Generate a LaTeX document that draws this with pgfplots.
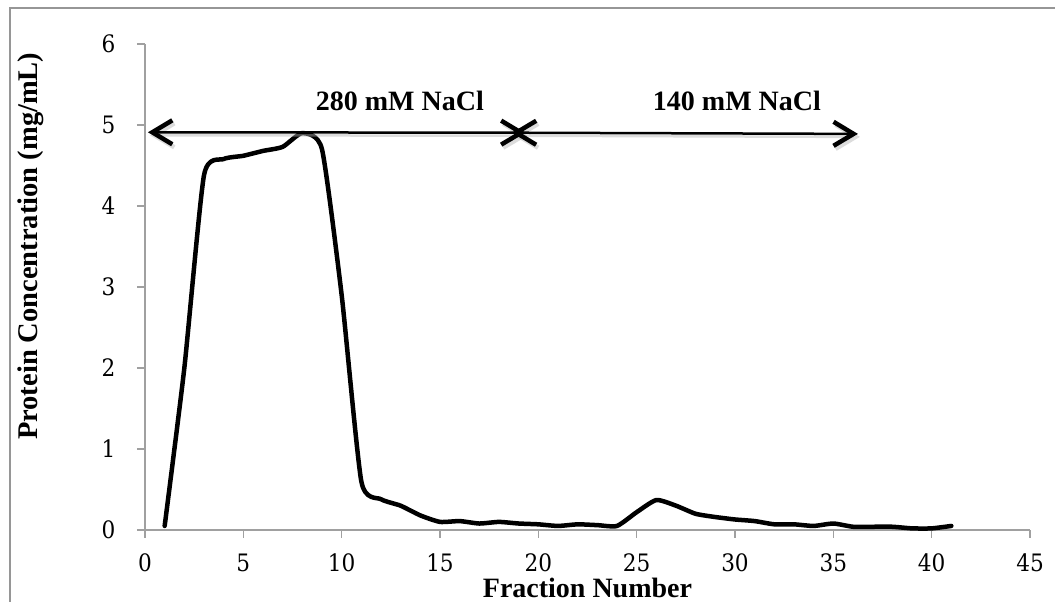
\documentclass[border=0pt]{standalone}
\usepackage{fontspec}
\setmainfont{DejaVu Serif Condensed}
\newfontfamily\labfont{Liberation Serif}
\usepackage{pgfplots}
\pgfplotsset{compat=1.18}
\usetikzlibrary{arrows.meta}
\definecolor{axisgray}{RGB}{160,160,160}
\definecolor{framegray}{RGB}{150,150,150}
\tikzset{barbarrow/.style={line width=2.5pt, >={Straight Barb[length=20pt,width=24pt,line width=4.5pt]}, <->}}
\begin{document}
\begin{tikzpicture}[x=1pt,y=1pt]
\useasboundingbox (0,0) rectangle (1055,602);
\draw[line width=1.6pt, framegray] (10,-30) rectangle (1090,594);
\begin{axis}[
  at={(145pt,72pt)}, anchor=south west,
  scale only axis, width=885pt, height=486pt,
  xmin=0, xmax=45, ymin=0, ymax=6,
  xtick={0,5,...,45}, ytick={0,1,...,6},
  axis lines*=left,
  axis line style={line width=1.5pt, color=axisgray},
  every tick/.style={line width=1.5pt, color=axisgray},
  tick align=outside, major tick length=8pt,
  /pgf/number format/assume math mode=true,
  tick label style={font=\fontsize{24}{28}\selectfont, black},
  xticklabel style={yshift=-12pt},
  yticklabel style={xshift=-18pt},
  xlabel={Fraction Number},
  ylabel={Protein Concentration (mg/mL)},
  xlabel style={font=\labfont\bfseries\fontsize{28}{32}\selectfont, inner sep=0pt, at={(axis description cs:0.5,-0.1379)}, anchor=base},
  ylabel style={font=\labfont\bfseries\fontsize{28.5}{32}\selectfont, inner sep=0pt, at={(axis description cs:-0.1288,0.584)}, anchor=center},
  clip=false,
]
\addplot[black, line width=4.5pt, smooth, tension=0.35, line join=round, line cap=round] coordinates {
(1,0.05) (2,2.0) (3,4.38) (4,4.58) (5,4.62) (6,4.68) (7,4.73) (8,4.9) (9,4.7)
(10,2.9) (11,0.6) (12,0.38) (13,0.3) (14,0.18) (15,0.1) (16,0.11) (17,0.08)
(18,0.1) (19,0.08) (20,0.07) (21,0.05) (22,0.07) (23,0.06) (24,0.05) (25,0.22)
(26,0.37) (27,0.3) (28,0.2) (29,0.16) (30,0.13) (31,0.11) (32,0.07) (33,0.07)
(34,0.05) (35,0.08) (36,0.04) (37,0.04) (38,0.04) (39,0.02) (40,0.02) (41,0.05)
};
% shadows of arrows
\begin{scope}[shift={(2pt,-3pt)}, draw=black!30, opacity=0.45]
\draw[barbarrow] (axis cs:0.15,4.91) -- (axis cs:19.35,4.905);
\draw[barbarrow] (axis cs:18.65,4.905) -- (axis cs:36.25,4.89);
\end{scope}
\draw[black, barbarrow] (axis cs:0.15,4.91) -- (axis cs:19.35,4.905);
\draw[black, barbarrow] (axis cs:18.65,4.905) -- (axis cs:36.25,4.89);
\node[font=\labfont\bfseries\fontsize{28}{32}\selectfont, anchor=base, inner sep=0pt] at (axis cs:12.96,5.185) {280 mM NaCl};
\node[font=\labfont\bfseries\fontsize{28}{32}\selectfont, anchor=base, inner sep=0pt] at (axis cs:30.1,5.185) {140 mM NaCl};
\end{axis}
\end{tikzpicture}
\end{document}
